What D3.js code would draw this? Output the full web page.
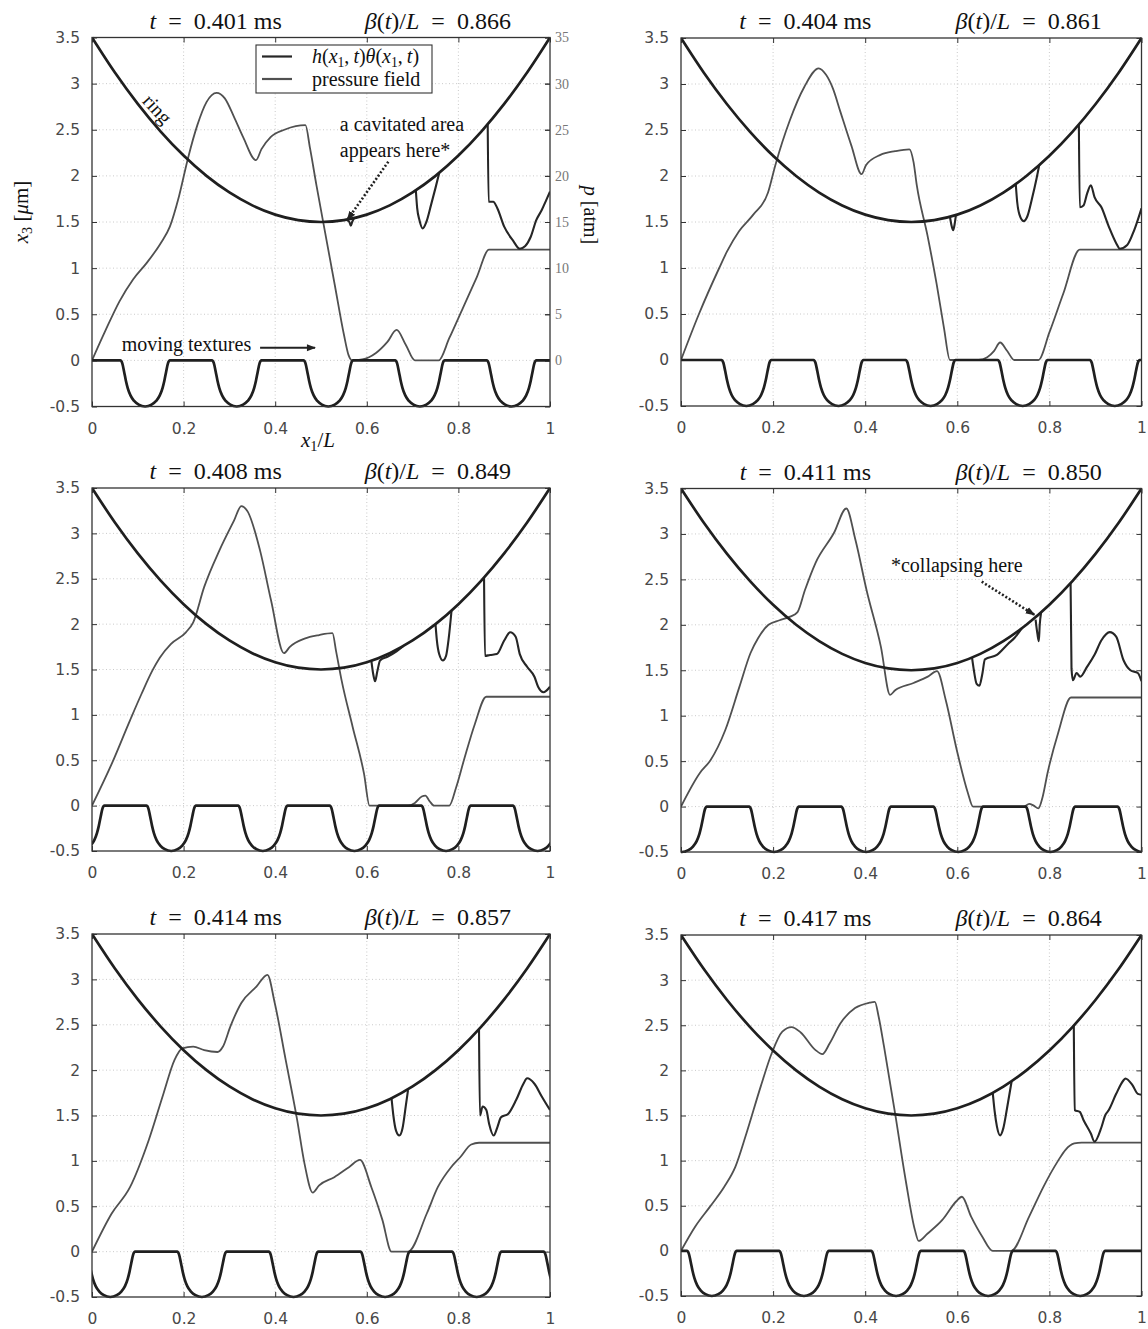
<!DOCTYPE html>
<html><head><meta charset="utf-8">
<script src="https://cdn.jsdelivr.net/npm/d3@7"></script>
<style>body{margin:0;background:#fff;} svg{display:block}</style>
</head><body><svg id="c" width="1148" height="1329"></svg>
<script>
// ---------- data ----------
const xTicks = [0, 0.2, 0.4, 0.6, 0.8, 1];
const xTickLabels = ["0", "0.2", "0.4", "0.6", "0.8", "1"];
const yTicks = [-0.5, 0, 0.5, 1, 1.5, 2, 2.5, 3, 3.5];
const yTickLabels = ["-0.5", "0", "0.5", "1", "1.5", "2", "2.5", "3", "3.5"];
const pTicks = [0, 5, 10, 15, 20, 25, 30, 35];
const times = ["0.401", "0.404", "0.408", "0.411", "0.414", "0.417"];
const betas = ["0.866", "0.861", "0.849", "0.850", "0.857", "0.864"];

const ringX = [0,0.05,0.1,0.15,0.2,0.25,0.3,0.35,0.4,0.45,0.5,0.55,0.6,0.65,0.7,0.75,0.8,0.85,0.9,0.95,1];
const ringY = [3.5,3.12,2.78,2.48,2.22,2.0,1.82,1.68,1.58,1.52,1.5,1.52,1.58,1.68,1.82,2.0,2.22,2.48,2.78,3.12,3.5];

// start of the first texture pocket in each frame (period 0.2 of x1/L)
const textureStarts = [0.062, 0.088, 0.119, 0.148, 0.186, 0.013];
const texturePeriod = 0.2;
// shape of one pocket: [offset from pocket start, depth]
const dipProfile = [[0,0],[0.004,-0.03],[0.008,-0.12],[0.012,-0.22],[0.016,-0.3],[0.022,-0.38],[0.03,-0.44],[0.04,-0.48],[0.054,-0.5],[0.068,-0.48],[0.078,-0.44],[0.086,-0.38],[0.092,-0.3],[0.096,-0.22],[0.1,-0.12],[0.104,-0.03],[0.108,0]];

// pressure field, in units of x3 (p/10 atm)
const pressure1 = [[0,0],[0.03,0.33],[0.06,0.64],[0.09,0.88],[0.12,1.06],[0.15,1.27],[0.17,1.45],[0.19,1.78],[0.21,2.2],[0.23,2.55],[0.25,2.8],[0.272,2.9],[0.29,2.84],[0.31,2.64],[0.33,2.42],[0.358,2.17],[0.37,2.29],[0.39,2.42],[0.42,2.5],[0.445,2.54],[0.466,2.55],[0.476,2.3],[0.49,1.9],[0.504,1.52],[0.53,0.82],[0.55,0.28],[0.56,0.06],[0.568,0],[0.59,0.01],[0.62,0.08],[0.645,0.2],[0.665,0.33],[0.685,0.17],[0.705,0],[0.757,0],[0.78,0.24],[0.81,0.57],[0.84,0.9],[0.867,1.2],[1,1.2]];
const pressure2 = [[0,0],[0.039,0.5],[0.083,1.0],[0.1,1.18],[0.126,1.4],[0.157,1.58],[0.189,1.82],[0.205,2.12],[0.236,2.6],[0.268,2.97],[0.299,3.17],[0.315,3.1],[0.33,2.95],[0.346,2.7],[0.37,2.33],[0.392,2.02],[0.402,2.12],[0.433,2.23],[0.465,2.27],[0.496,2.29],[0.505,2.15],[0.512,1.9],[0.535,1.36],[0.555,0.83],[0.571,0.35],[0.584,0],[0.646,0],[0.665,0.03],[0.68,0.1],[0.693,0.19],[0.708,0.1],[0.724,0],[0.776,0],[0.8,0.3],[0.83,0.72],[0.866,1.2],[1,1.2]];
const pressure3 = [[0,0],[0.043,0.46],[0.083,0.94],[0.108,1.23],[0.132,1.49],[0.148,1.63],[0.172,1.78],[0.205,1.91],[0.221,2.02],[0.245,2.41],[0.278,2.81],[0.31,3.14],[0.326,3.3],[0.34,3.24],[0.367,2.81],[0.391,2.26],[0.419,1.68],[0.432,1.75],[0.464,1.84],[0.496,1.88],[0.525,1.9],[0.533,1.7],[0.545,1.38],[0.569,0.87],[0.594,0.35],[0.606,0],[0.69,0],[0.705,0.03],[0.72,0.1],[0.728,0.11],[0.737,0.05],[0.747,0],[0.78,0],[0.795,0.2],[0.812,0.5],[0.836,0.9],[0.861,1.2],[1,1.2]];
const pressure4 = [[0,0],[0.041,0.37],[0.064,0.51],[0.096,0.84],[0.127,1.32],[0.151,1.69],[0.167,1.85],[0.19,2.0],[0.214,2.05],[0.237,2.09],[0.253,2.14],[0.269,2.38],[0.292,2.68],[0.332,3.01],[0.359,3.28],[0.379,2.93],[0.403,2.38],[0.434,1.76],[0.454,1.23],[0.465,1.28],[0.505,1.36],[0.536,1.43],[0.556,1.49],[0.575,1.17],[0.599,0.62],[0.623,0.15],[0.634,0],[0.745,0],[0.756,0.03],[0.766,0.01],[0.776,-0.02],[0.785,0.1],[0.796,0.37],[0.819,0.81],[0.847,1.2],[1,1.2]];
const pressure5 = [[0,0],[0.043,0.42],[0.083,0.71],[0.124,1.23],[0.156,1.74],[0.18,2.11],[0.197,2.24],[0.221,2.26],[0.245,2.22],[0.274,2.2],[0.286,2.26],[0.302,2.48],[0.326,2.74],[0.359,2.92],[0.383,3.05],[0.399,2.74],[0.423,2.11],[0.448,1.45],[0.464,0.97],[0.482,0.65],[0.496,0.73],[0.529,0.82],[0.561,0.93],[0.585,1.01],[0.61,0.71],[0.634,0.35],[0.654,0],[0.69,0],[0.731,0.42],[0.755,0.71],[0.784,0.93],[0.804,1.04],[0.828,1.18],[0.845,1.2],[1,1.2]];
const pressure6 = [[0,0],[0.031,0.27],[0.063,0.49],[0.094,0.71],[0.118,0.93],[0.142,1.3],[0.173,1.82],[0.197,2.19],[0.22,2.43],[0.24,2.48],[0.26,2.42],[0.291,2.23],[0.307,2.18],[0.323,2.3],[0.346,2.52],[0.378,2.69],[0.409,2.75],[0.421,2.76],[0.429,2.6],[0.441,2.26],[0.465,1.52],[0.488,0.78],[0.508,0.23],[0.516,0.11],[0.535,0.19],[0.567,0.34],[0.598,0.55],[0.61,0.6],[0.63,0.38],[0.654,0.16],[0.677,0],[0.717,0],[0.756,0.38],[0.787,0.71],[0.819,1.0],[0.835,1.12],[0.854,1.19],[0.87,1.2],[1,1.2]];

// h*theta where it leaves the ring profile (elsewhere it lies on the ring)
const hTheta1 = [
  [[0.555,1.525],[0.562,1.5],[0.565,1.46],[0.568,1.5],[0.572,1.541]],
  [[0.707,1.85],[0.71,1.65],[0.715,1.52],[0.722,1.43],[0.73,1.5],[0.74,1.68],[0.75,1.87],[0.758,2.03]],
  [[0.864,2.56],[0.866,1.72],[0.876,1.72],[0.885,1.65],[0.9,1.45],[0.919,1.3],[0.934,1.21],[0.946,1.24],[0.958,1.34],[0.97,1.52],[0.982,1.63],[0.992,1.74],[1,1.83]]
];
const hTheta2 = [
  [[0.584,1.557],[0.588,1.45],[0.591,1.41],[0.594,1.47],[0.597,1.575]],
  [[0.727,1.91],[0.73,1.72],[0.735,1.58],[0.744,1.51],[0.752,1.56],[0.762,1.75],[0.772,1.97],[0.778,2.12]],
  [[0.864,2.56],[0.866,1.66],[0.874,1.68],[0.882,1.81],[0.89,1.9],[0.898,1.77],[0.913,1.66],[0.929,1.45],[0.945,1.27],[0.953,1.21],[0.969,1.25],[0.984,1.41],[1,1.65]]
];
const hTheta3 = [
  [[0.61,1.597],[0.614,1.45],[0.618,1.37],[0.623,1.48],[0.629,1.6],[0.645,1.64],[0.665,1.7],[0.68,1.759]],
  [[0.75,2.0],[0.753,1.82],[0.758,1.67],[0.766,1.6],[0.773,1.65],[0.779,1.85],[0.785,2.15]],
  [[0.856,2.514],[0.858,1.65],[0.869,1.66],[0.884,1.67],[0.9,1.82],[0.913,1.91],[0.925,1.86],[0.934,1.67],[0.95,1.53],[0.966,1.42],[0.974,1.31],[0.986,1.25],[1,1.31]]
];
const hTheta4 = [
  [[0.632,1.639],[0.636,1.5],[0.642,1.35],[0.648,1.33],[0.654,1.45],[0.66,1.62],[0.686,1.67],[0.71,1.79],[0.725,1.86],[0.74,1.96]],
  [[0.77,2.058],[0.774,1.9],[0.777,1.82],[0.779,2.0],[0.782,2.136]],
  [[0.846,2.458],[0.848,1.52],[0.851,1.39],[0.859,1.47],[0.867,1.43],[0.882,1.54],[0.898,1.67],[0.913,1.83],[0.931,1.92],[0.945,1.87],[0.961,1.61],[0.976,1.5],[0.992,1.47],[1,1.38]]
];
const hTheta5 = [
  [[0.654,1.69],[0.658,1.5],[0.664,1.33],[0.671,1.28],[0.678,1.36],[0.685,1.6],[0.69,1.78]],
  [[0.845,2.452],[0.847,1.5],[0.853,1.6],[0.861,1.56],[0.867,1.41],[0.877,1.28],[0.885,1.37],[0.893,1.48],[0.909,1.52],[0.926,1.67],[0.942,1.85],[0.95,1.91],[0.966,1.85],[0.982,1.71],[1,1.56]]
];
const hTheta6 = [
  [[0.677,1.75],[0.681,1.55],[0.686,1.38],[0.693,1.28],[0.7,1.36],[0.708,1.58],[0.718,1.88]],
  [[0.853,2.497],[0.855,1.56],[0.866,1.54],[0.874,1.45],[0.89,1.3],[0.898,1.21],[0.913,1.37],[0.921,1.5],[0.929,1.56],[0.945,1.74],[0.961,1.89],[0.965,1.91],[0.98,1.84],[0.992,1.74],[1,1.73]]
];

const pressures = [pressure1, pressure2, pressure3, pressure4, pressure5, pressure6];
const hThetas = [hTheta1, hTheta2, hTheta3, hTheta4, hTheta5, hTheta6];

// ---------- layout ----------
const frames = [
  {l:92, r:550, t:37.5, b:406.5},
  {l:681, r:1141.5, t:38, b:406},
  {l:92, r:550, t:488, b:851},
  {l:681, r:1141.5, t:488.5, b:852},
  {l:92, r:550, t:934, b:1297},
  {l:681, r:1141.5, t:935, b:1296}
];
const SERIF = "'Liberation Serif','Times New Roman',serif";
const SANS = "'DejaVu Sans',Verdana,sans-serif";
const C_RING = "#1f1f1f", C_HT = "#262626", C_P = "#505050";

const svg = d3.select("#c");
svg.append("rect").attr("width",1148).attr("height",1329).attr("fill","#fff");
const defs = svg.append("defs");
defs.append("marker").attr("id","ah").attr("viewBox","0 0 10 10").attr("refX",9).attr("refY",5)
  .attr("markerWidth",10).attr("markerHeight",10).attr("markerUnits","userSpaceOnUse").attr("orient","auto")
  .append("path").attr("d","M0,1.5 L10,5 L0,8.5 Z").attr("fill","#222");
defs.append("marker").attr("id","ah2").attr("viewBox","0 0 10 10").attr("refX",9).attr("refY",5)
  .attr("markerWidth",12).attr("markerHeight",9).attr("markerUnits","userSpaceOnUse").attr("orient","auto")
  .append("path").attr("d","M0,1 L10,5 L0,9 Z").attr("fill","#222");

function mathText(sel, parts, size){
  parts.forEach(p=>{
    const ts = sel.append("tspan").text(p.t);
    if(p.i) ts.attr("font-style","italic");
    if(p.sub){ ts.attr("font-size", size*0.68).attr("dy", size*0.2); }
    if(p.after){ ts.attr("dy", -size*0.2); }
  });
}

frames.forEach((f, i) => {
  const x = d3.scaleLinear().domain([0,1]).range([f.l, f.r]);
  const y = d3.scaleLinear().domain([-0.5,3.5]).range([f.b, f.t]);
  const g = svg.append("g");
  const clipId = "clip"+i;
  defs.append("clipPath").attr("id",clipId).append("rect")
    .attr("x",f.l).attr("y",f.t-4).attr("width",f.r-f.l).attr("height",f.b-f.t+8);

  // grid
  const grid = g.append("g").attr("stroke","#c4c4c4").attr("stroke-width",0.9).attr("stroke-dasharray","1,2.5");
  xTicks.slice(1,-1).forEach(v=>grid.append("line").attr("x1",x(v)).attr("x2",x(v)).attr("y1",f.t).attr("y2",f.b));
  yTicks.slice(1,-1).forEach(v=>grid.append("line").attr("y1",y(v)).attr("y2",y(v)).attr("x1",f.l).attr("x2",f.r));

  // axes (inward ticks on all sides)
  const fmtX = d => xTickLabels[xTicks.indexOf(d)];
  const fmtY = d => yTickLabels[yTicks.indexOf(d)];
  const ax = [
    g.append("g").attr("transform",`translate(0,${f.b})`).call(d3.axisBottom(x).tickValues(xTicks).tickFormat(fmtX).tickSize(-5).tickSizeOuter(0).tickPadding(16)),
    g.append("g").attr("transform",`translate(0,${f.t})`).call(d3.axisTop(x).tickValues(xTicks).tickFormat("").tickSize(-5).tickSizeOuter(0)),
    g.append("g").attr("transform",`translate(${f.l},0)`).call(d3.axisLeft(y).tickValues(yTicks).tickFormat(fmtY).tickSize(-5).tickSizeOuter(0).tickPadding(12)),
    g.append("g").attr("transform",`translate(${f.r},0)`).call(d3.axisRight(y).tickValues(yTicks).tickFormat("").tickSize(-5).tickSizeOuter(0))
  ];
  ax.forEach(a=>{
    a.attr("font-family",SANS).attr("font-size",15.5);
    a.select(".domain").remove();
    a.selectAll(".tick line").attr("stroke","#333").attr("stroke-width",1);
    a.selectAll(".tick text").attr("fill","#484848");
  });

  if(i===0){
    const pS = d3.scaleLinear().domain([-5,35]).range([f.b, f.t]);
    const ap = g.append("g").attr("transform",`translate(${f.r},0)`)
      .call(d3.axisRight(pS).tickValues(pTicks).tickSize(-5).tickSizeOuter(0).tickPadding(5));
    ap.attr("font-family",SERIF).attr("font-size",14);
    ap.select(".domain").remove();
    ap.selectAll(".tick line").attr("stroke","#333");
    ap.selectAll(".tick text").attr("fill","#777");
  }

  const plot = g.append("g").attr("clip-path",`url(#${clipId})`);
  const line = d3.line().x(d=>x(d[0])).y(d=>y(d[1])).curve(d3.curveMonotoneX);

  // pressure field
  plot.append("path").datum(pressures[i]).attr("d",line).attr("fill","none")
    .attr("stroke",C_P).attr("stroke-width",1.8).attr("stroke-linejoin","round");

  // textures
  const tex = [];
  for(let s = textureStarts[i]-texturePeriod; s < 1.25; s += texturePeriod){
    dipProfile.forEach(p=>tex.push([s+p[0], p[1]]));
  }
  plot.append("path").datum(tex).attr("d",line).attr("fill","none")
    .attr("stroke",C_RING).attr("stroke-width",2.7).attr("stroke-linejoin","round");

  // h theta deviations
  hThetas[i].forEach(seg=>{
    plot.append("path").datum(seg).attr("d",line).attr("fill","none")
      .attr("stroke",C_HT).attr("stroke-width",2.1).attr("stroke-linejoin","round");
  });

  // ring
  plot.append("path").datum(ringX.map((v,k)=>[v, ringY[k]])).attr("d",line).attr("fill","none")
    .attr("stroke",C_RING).attr("stroke-width",2.7);

  // frame
  g.append("rect").attr("x",f.l).attr("y",f.t).attr("width",f.r-f.l).attr("height",f.b-f.t)
    .attr("fill","none").attr("stroke","#333").attr("stroke-width",1.3);

  // titles
  const w = f.r - f.l;
  const t1 = g.append("text").attr("x",f.l+0.27*w).attr("y",f.t-9).attr("text-anchor","middle")
    .attr("font-family",SERIF).attr("font-size",24).attr("fill","#111");
  mathText(t1,[{t:"t",i:true},{t:"\u2002=\u2002"+times[i]+" ms"}],24);
  const t2 = g.append("text").attr("x",f.l+0.755*w).attr("y",f.t-9).attr("text-anchor","middle")
    .attr("font-family",SERIF).attr("font-size",24).attr("fill","#111");
  mathText(t2,[{t:"\u03b2",i:true},{t:"("},{t:"t",i:true},{t:")/"},{t:"L",i:true},{t:"\u2002=\u2002"+betas[i]}],24);

  if(i===0){
    // legend
    const lg = g.append("g").attr("transform",`translate(${f.l+164},${f.t+7.5})`);
    lg.append("rect").attr("width",176).attr("height",48).attr("fill","#fff").attr("stroke","#333").attr("stroke-width",1.1);
    lg.append("line").attr("x1",6).attr("x2",36).attr("y1",11.5).attr("y2",11.5).attr("stroke",C_HT).attr("stroke-width",2.2);
    lg.append("line").attr("x1",6).attr("x2",36).attr("y1",34).attr("y2",34).attr("stroke",C_P).attr("stroke-width",2.2);
    const l1 = lg.append("text").attr("x",56).attr("y",17.5).attr("font-family",SERIF).attr("font-size",20).attr("fill","#111");
    mathText(l1,[{t:"h",i:true},{t:"("},{t:"x",i:true},{t:"1",sub:true},{t:",\u2009",after:true},{t:"t",i:true},{t:")"},{t:"\u03b8",i:true},{t:"("},{t:"x",i:true},{t:"1",sub:true},{t:",\u2009",after:true},{t:"t",i:true},{t:")"}],20);
    lg.append("text").attr("x",56).attr("y",41).attr("font-family",SERIF).attr("font-size",20).attr("fill","#111").text("pressure field");

    // annotations
    g.append("text").attr("x",x(0.541)).attr("y",y(2.486)).attr("font-family",SERIF).attr("font-size",20).attr("fill","#111").text("a cavitated area");
    g.append("text").attr("x",x(0.541)).attr("y",y(2.205)).attr("font-family",SERIF).attr("font-size",20).attr("fill","#111").text("appears here*");
    g.append("line").attr("x1",x(0.647)).attr("y1",y(2.154)).attr("x2",x(0.557)).attr("y2",y(1.52))
      .attr("stroke","#222").attr("stroke-width",2.6).attr("stroke-dasharray","2,2").attr("marker-end","url(#ah)");
    g.append("text").attr("x",x(0.065)).attr("y",y(0.102)).attr("font-family",SERIF).attr("font-size",20).attr("fill","#111").text("moving textures");
    g.append("line").attr("x1",x(0.367)).attr("y1",y(0.137)).attr("x2",x(0.487)).attr("y2",y(0.137))
      .attr("stroke","#222").attr("stroke-width",1.8).attr("marker-end","url(#ah2)");
    g.append("text").attr("transform",`translate(${x(0.143)},${y(2.725)}) rotate(48)`)
      .attr("text-anchor","middle").attr("dominant-baseline","central")
      .attr("font-family",SERIF).attr("font-size",20).attr("fill","#111").text("ring");

    // axis labels
    const yl = g.append("text").attr("transform",`translate(28,212) rotate(-90)`).attr("text-anchor","middle")
      .attr("font-family",SERIF).attr("font-size",21).attr("fill","#111");
    mathText(yl,[{t:"x",i:true},{t:"3",sub:true},{t:" [",after:true},{t:"\u03bc",i:true},{t:"m]"}],21);
    const pl = g.append("text").attr("transform",`translate(584,215) rotate(90)`).attr("text-anchor","middle")
      .attr("font-family",SERIF).attr("font-size",20).attr("fill","#111");
    mathText(pl,[{t:"p",i:true},{t:" [atm]"}],20);
    const xl = g.append("text").attr("x",318).attr("y",447).attr("text-anchor","middle")
      .attr("font-family",SERIF).attr("font-size",21).attr("fill","#111");
    mathText(xl,[{t:"x",i:true},{t:"1",sub:true},{t:"/",after:true},{t:"L",i:true}],21);
  }
  if(i===3){
    g.append("text").attr("x",x(0.456)).attr("y",y(2.585)).attr("font-family",SERIF).attr("font-size",20).attr("fill","#111").text("*collapsing here");
    g.append("line").attr("x1",x(0.653)).attr("y1",y(2.475)).attr("x2",x(0.768)).attr("y2",y(2.108))
      .attr("stroke","#222").attr("stroke-width",2.6).attr("stroke-dasharray","2,2").attr("marker-end","url(#ah)");
  }
});
</script></body></html>
